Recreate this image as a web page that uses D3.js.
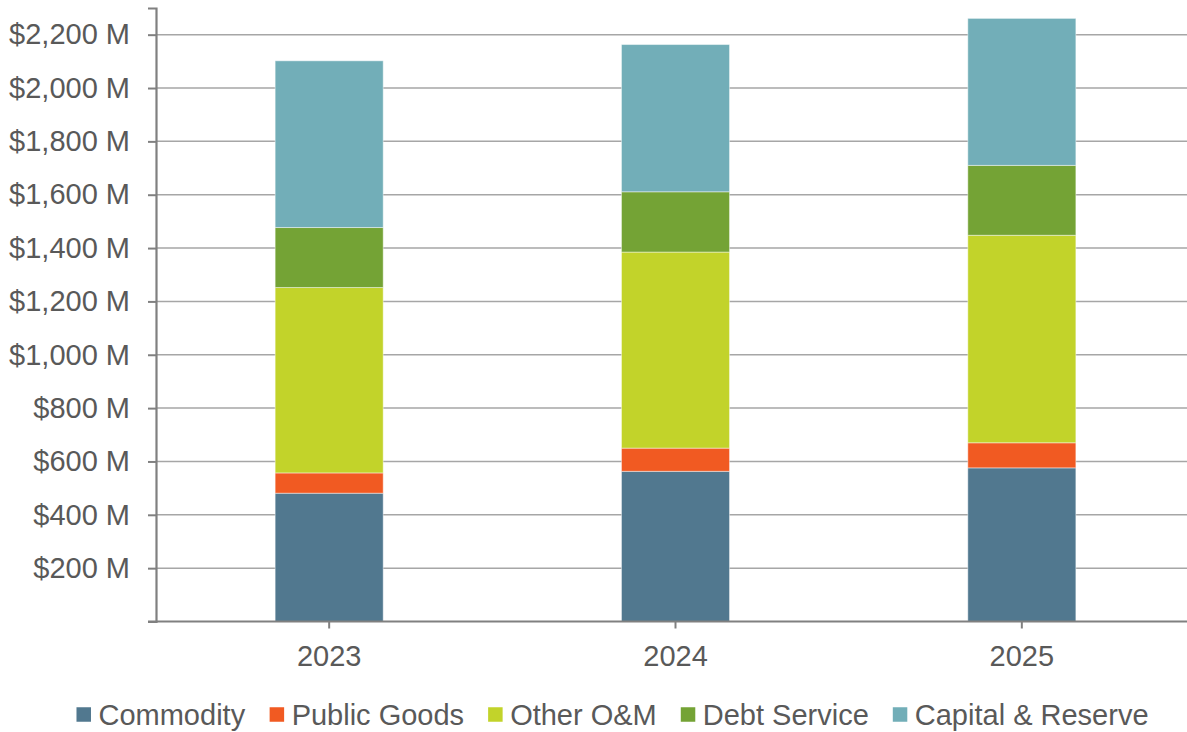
<!DOCTYPE html>
<html><head><meta charset="utf-8">
<script src="https://cdn.jsdelivr.net/npm/d3@7"></script>
<style>body{margin:0;background:#fff;} svg{display:block;font-family:"Liberation Sans",Arial,sans-serif;}</style>
</head><body>
<svg id="chart" width="1187" height="732"></svg>
<script>
const years = ["2023","2024","2025"];
const seriesNames = ["Commodity","Public Goods","Other O&M","Debt Service","Capital & Reserve"];
const commodity = [481, 563, 576];
const publicGoods = [76, 87, 94];
const otherOM = [695, 735, 778];
const debtService = [225, 226, 262];
const capitalReserve = [625, 552, 551];
const colors = ["#51788F","#F15A22","#C2D32A","#74A335","#72AEB8"];
const yTicks = [200,400,600,800,1000,1200,1400,1600,1800,2000,2200];

(function(){
const rows = years.map((y,i)=>({year:y,"Commodity":commodity[i],"Public Goods":publicGoods[i],"Other O&M":otherOM[i],"Debt Service":debtService[i],"Capital & Reserve":capitalReserve[i]}));
const stack = d3.stack().keys(seriesNames)(rows);

const svg = d3.select("#chart");
const mLeft = 156, mRight = 1195, mTop = 8, mBottom = 621.5;
const fs = "29px";
const x = d3.scaleBand().domain(years).range([mLeft,mRight]).paddingInner(0.688).paddingOuter(0.344);
const y = d3.scaleLinear().domain([0,2300]).range([mBottom,mTop]);
const color = d3.scaleOrdinal().domain(seriesNames).range(colors);

// gridlines
svg.append("g").selectAll("line").data(yTicks).join("line")
  .attr("x1",mLeft).attr("x2",mRight).attr("y1",d=>y(d)).attr("y2",d=>y(d))
  .attr("stroke","#A6A6A6").attr("stroke-width",1.5);

// bars
svg.append("g").selectAll("g").data(stack).join("g").attr("fill",d=>color(d.key))
  .selectAll("rect").data(d=>d).join("rect")
  .attr("x",d=>x(d.data.year)).attr("width",x.bandwidth())
  .attr("y",d=>y(d[1])).attr("height",d=>y(d[0])-y(d[1]))
  .attr("stroke","rgba(255,255,255,0.45)").attr("stroke-width",1);

// y axis
const yAxis = d3.axisLeft(y).tickValues(yTicks).tickSize(8).tickPadding(18)
  .tickFormat(d=>"$"+d3.format(",")(d)+" M");
const gy = svg.append("g").attr("transform",`translate(${mLeft},0)`).call(yAxis);
gy.select(".domain").attr("stroke","#808080").attr("stroke-width",2.2);
gy.selectAll(".tick line").attr("stroke","#808080").attr("stroke-width",2);
gy.selectAll(".tick text").attr("fill","#595959").attr("font-size",fs)
  .attr("font-family","Liberation Sans, Arial, sans-serif");

// x axis
const xAxis = d3.axisBottom(x).tickSize(7).tickSizeOuter(0).tickPadding(17);
const gx = svg.append("g").attr("transform",`translate(0,${mBottom})`).call(xAxis);
gx.select(".domain").attr("stroke","#808080").attr("stroke-width",2.2).attr("d",`M${mLeft-8},0H${mRight}`);
gx.selectAll(".tick line").attr("stroke","#808080").attr("stroke-width",2);
gx.selectAll(".tick text").attr("fill","#595959").attr("font-size",fs)
  .attr("font-family","Liberation Sans, Arial, sans-serif");

// legend
const lg = svg.append("g");
const legendY = 714.5;
const items = lg.selectAll("g").data(seriesNames).join("g");
items.append("rect").attr("width",14.5).attr("height",14.5).attr("y",legendY-7.25).attr("fill",d=>color(d));
items.append("text").attr("x",22).attr("y",legendY).attr("dy","0.35em")
  .attr("fill","#595959").attr("font-size",fs).text(d=>d);
const widths=[];
items.each(function(){ widths.push(this.getBBox().width); });
const gap = 24;
const total = d3.sum(widths)+gap*(widths.length-1);
let cx = 612.5 - total/2;
items.attr("transform",(d,i)=>{ const t=`translate(${cx},0)`; cx+=widths[i]+gap; return t; });
})();
</script>
</body></html>
